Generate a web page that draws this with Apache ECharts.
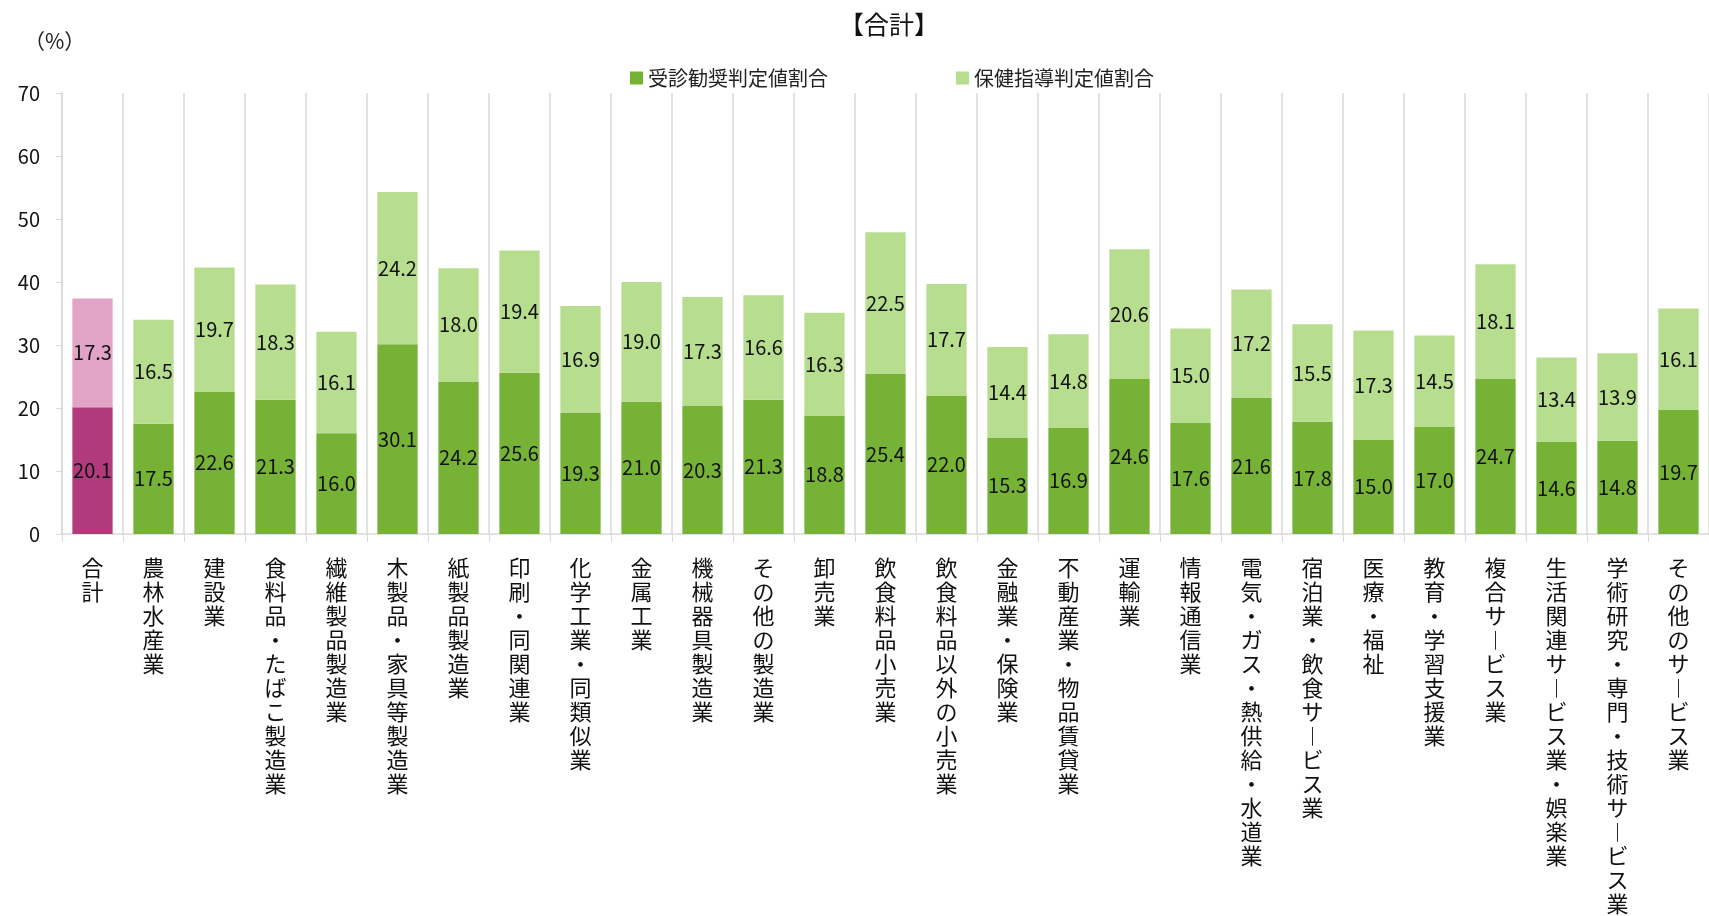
<!DOCTYPE html>
<html><head><meta charset="utf-8">
<script src="https://cdn.jsdelivr.net/npm/echarts@6/dist/echarts.min.js"></script>
<style>html,body{margin:0;padding:0;background:#fff;}#c{width:1709px;height:916px;}</style>
</head><body><div id="c"></div>
<script>
const categories = ['合計','農林水産業','建設業','食料品・たばこ製造業','繊維製品製造業','木製品・家具等製造業','紙製品製造業','印刷・同関連業','化学工業・同類似業','金属工業','機械器具製造業','その他の製造業','卸売業','飲食料品小売業','飲食料品以外の小売業','金融業・保険業','不動産業・物品賃貸業','運輸業','情報通信業','電気・ガス・熱供給・水道業','宿泊業・飲食サービス業','医療・福祉','教育・学習支援業','複合サービス業','生活関連サービス業・娯楽業','学術研究・専門・技術サービス業','その他のサービス業'];
const jushinValues = [20.1,17.5,22.6,21.3,16.0,30.1,24.2,25.6,19.3,21.0,20.3,21.3,18.8,25.4,22.0,15.3,16.9,24.6,17.6,21.6,17.8,15.0,17.0,24.7,14.6,14.8,19.7];
const hokenValues = [17.3,16.5,19.7,18.3,16.1,24.2,18.0,19.4,16.9,19.0,17.3,16.6,16.3,22.5,17.7,14.4,14.8,20.6,15.0,17.2,15.5,17.3,14.5,18.1,13.4,13.9,16.1];
const yTicks = [0,10,20,30,40,50,60,70];

const FONT = '"Noto Sans CJK JP", "Noto Sans", sans-serif';
const chart = echarts.init(document.getElementById('c'));
const labelCfg = {show:true, position:'inside', color:'#111', fontSize:20, fontFamily:FONT, formatter: p => p.value.toFixed(1)};
chart.setOption({
  animation:false,
  textStyle:{fontFamily:FONT},
  title:{text:'【合計】', left:884, top:7, textAlign:'center', textStyle:{fontSize:25, fontWeight:'normal', color:'#111', fontFamily:FONT}},
  graphic:[{type:'text', left:24, top:31, style:{text:'（%）', fontSize:21, fill:'#222', fontFamily:FONT}}],
  legend:{left:625, top:63, itemWidth:13, itemHeight:13, itemGap:128, icon:'rect',
    textStyle:{fontSize:20, color:'#222', fontFamily:FONT},
    data:['受診勧奨判定値割合','保健指導判定値割合']},
  grid:{left:62, top:93, width:1654, height:445, containLabel:false},
  xAxis:{type:'category', data:categories,
    axisLine:{lineStyle:{color:'#d9d9d9', width:1.5}},
    axisTick:{show:true, length:8, interval:0, lineStyle:{color:'#d9d9d9'}},
    splitLine:{show:true, interval:0, lineStyle:{color:'#d9d9d9', width:1.5}},
    axisLabel:{interval:0, margin:22, fontSize:22, lineHeight:24, color:'#111', fontFamily:FONT, verticalAlign:'top',
      formatter: v => v.replace(/ー/g,'︱').split('').join('\n')}},
  yAxis:{type:'value', min:0, max:70, interval:10,
    axisLine:{show:true, lineStyle:{color:'#d9d9d9', width:1.5}},
    axisTick:{show:true, length:6, lineStyle:{color:'#d9d9d9'}},
    splitLine:{show:false},
    axisLabel:{fontSize:20, color:'#111', margin:22, fontFamily:FONT,
      formatter: v => yTicks.includes(v) ? String(v) : ''}},
  series:[
    {name:'受診勧奨判定値割合', type:'bar', stack:'s', barWidth:'66%', color:'#76B236', label:labelCfg,
     data: jushinValues.map((v,i)=> i===0 ? {value:v, itemStyle:{color:'#B03A7C'}} : v)},
    {name:'保健指導判定値割合', type:'bar', stack:'s', barWidth:'66%', color:'#B7DD8F', label:labelCfg,
     data: hokenValues.map((v,i)=> i===0 ? {value:v, itemStyle:{color:'#E1A3C6'}} : v)}
  ]
});
</script></body></html>
